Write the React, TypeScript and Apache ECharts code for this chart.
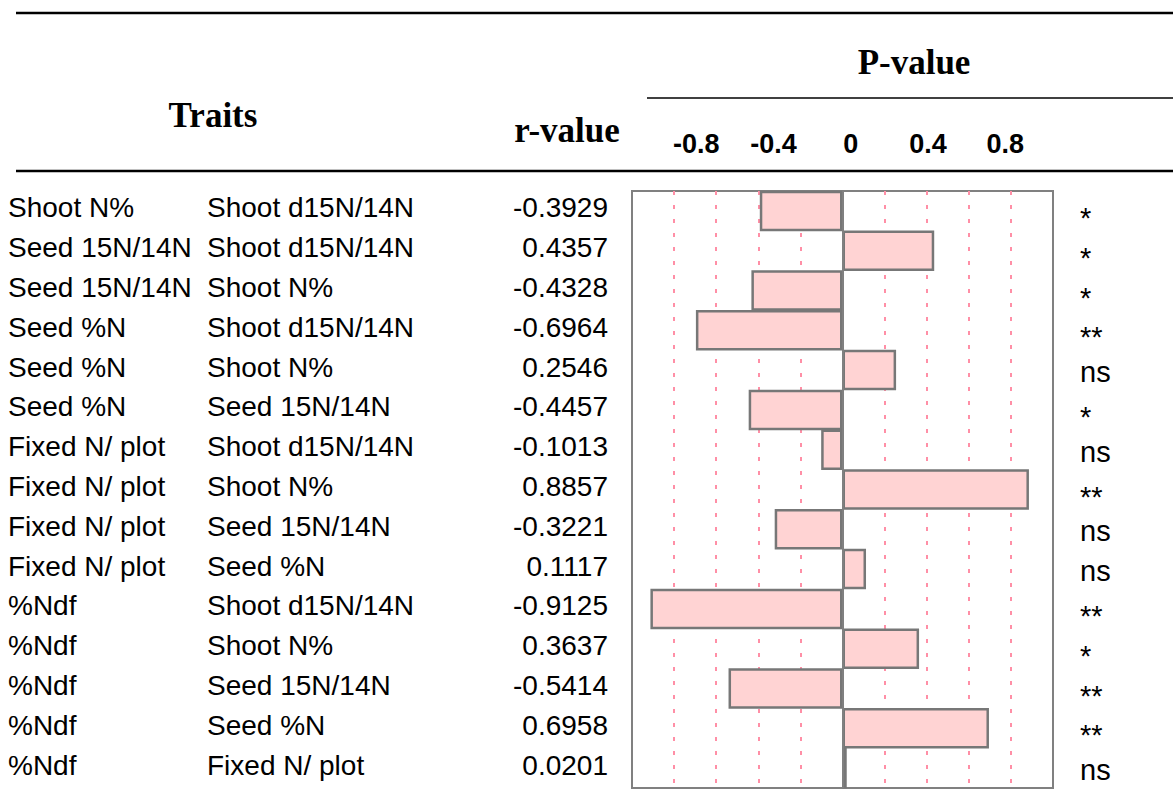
import React, { useEffect, useRef } from "react";
import * as echarts from "echarts";

const trait1: string[] = [
  "Shoot N%", "Seed 15N/14N", "Seed 15N/14N", "Seed %N", "Seed %N", "Seed %N",
  "Fixed N/ plot", "Fixed N/ plot", "Fixed N/ plot", "Fixed N/ plot",
  "%Ndf", "%Ndf", "%Ndf", "%Ndf", "%Ndf",
];
const trait2: string[] = [
  "Shoot d15N/14N", "Shoot d15N/14N", "Shoot N%", "Shoot d15N/14N", "Shoot N%", "Seed 15N/14N",
  "Shoot d15N/14N", "Shoot N%", "Seed 15N/14N", "Seed %N",
  "Shoot d15N/14N", "Shoot N%", "Seed 15N/14N", "Seed %N", "Fixed N/ plot",
];
const rValues: number[] = [
  -0.3929, 0.4357, -0.4328, -0.6964, 0.2546, -0.4457, -0.1013, 0.8857,
  -0.3221, 0.1117, -0.9125, 0.3637, -0.5414, 0.6958, 0.0201,
];
const significance: string[] = [
  "*", "*", "*", "**", "ns", "*", "ns", "**", "ns", "ns", "**", "*", "**", "**", "ns",
];
const topTickValues: number[] = [-0.8, -0.4, 0, 0.4, 0.8];
const headers = { traits: "Traits", r: "r-value", p: "P-value" };

const categories = rValues.map((_, i) => String(i));

const SANS = "'Liberation Sans', Arial, sans-serif";
const SERIF = "'Liberation Serif', 'Times New Roman', serif";

export default function App() {
  const ref = useRef<HTMLDivElement>(null);
  useEffect(() => {
    if (!ref.current) return;
    const chart = echarts.init(ref.current, null, { renderer: "svg" });
    const option: any = {
      animation: false,
      backgroundColor: "#ffffff",
      grid: {
        left: 632,
        top: 191,
        width: 421,
        height: 597,
        show: true,
        borderColor: "#808080",
        borderWidth: 2,
        backgroundColor: "transparent",
      },
      xAxis: [
        {
          type: "value",
          min: -1,
          max: 1,
          interval: 0.2,
          position: "bottom",
          axisLine: { show: false },
          axisTick: { show: false },
          axisLabel: { show: false },
          splitLine: {
            show: true,
            showMinLine: false,
            showMaxLine: false,
            lineStyle: { color: "#ff8fa6", type: [4, 10], width: 2 },
          },
        },
        {
          type: "value",
          min: -1.1326,
          max: 1.0476,
          position: "top",
          axisLine: { show: false },
          axisTick: { show: false },
          splitLine: { show: false },
          axisLabel: {
            show: true,
            customValues: topTickValues,
            formatter: (v: number) => String(v),
            fontFamily: SANS,
            fontWeight: "bold",
            fontSize: 27,
            color: "#000",
            margin: 34,
          },
        },
      ],
      yAxis: [
        {
          type: "category",
          data: categories,
          inverse: true,
          position: "left",
          axisLine: { show: false },
          axisTick: { show: false },
          splitLine: { show: false },
          axisLabel: {
            margin: 24,
            padding: [0, 0, 6, 0],
            formatter: (_v: string, i: number) =>
              `{a|${trait1[i]}}{b|${trait2[i]}}{c|${rValues[i].toFixed(4)}}`,
            rich: {
              a: { width: 199, align: "left", fontFamily: SANS, fontSize: 28, color: "#000" },
              b: { width: 300, align: "left", fontFamily: SANS, fontSize: 28, color: "#000" },
              c: { width: 101, align: "right", fontFamily: SANS, fontSize: 28, color: "#000" },
            },
          },
        },
        {
          type: "category",
          data: categories,
          inverse: true,
          position: "right",
          axisLine: { show: false },
          axisTick: { show: false },
          splitLine: { show: false },
          axisLabel: {
            margin: 27,
            formatter: (_v: string, i: number) =>
              significance[i] === "ns" ? `{n|${significance[i]}}` : `{s|${significance[i]}}`,
            rich: {
              s: { fontFamily: SANS, fontSize: 29, color: "#000", padding: [14, 0, 0, 0] },
              n: { fontFamily: SANS, fontSize: 29, color: "#000", padding: [4, 0, 0, 0] },
            },
          },
        },
      ],
      series: [
        {
          type: "bar",
          xAxisIndex: 0,
          yAxisIndex: 0,
          data: rValues,
          barWidth: 40.5,
          barCategoryGap: "0%",
          itemStyle: { color: "#ffd3d3", borderColor: "#777777", borderWidth: 2.5 },
          markLine: {
            silent: true,
            symbol: ["none", "none"],
            label: { show: false },
            lineStyle: { color: "#808080", width: 2, type: "solid" },
            data: [{ xAxis: 0 }],
          },
        },
      ],
      graphic: [
        { type: "line", shape: { x1: 16, y1: 13, x2: 1173, y2: 13 }, style: { stroke: "#000", lineWidth: 2.5 } },
        { type: "line", shape: { x1: 647, y1: 98, x2: 1173, y2: 98 }, style: { stroke: "#000", lineWidth: 1.5 } },
        { type: "line", shape: { x1: 16, y1: 171, x2: 1173, y2: 171 }, style: { stroke: "#000", lineWidth: 2.5 } },
        {
          type: "text",
          x: 213,
          y: 115,
          style: { text: headers.traits, font: `bold 35px ${SERIF}`, fill: "#000", align: "center", verticalAlign: "middle" },
        },
        {
          type: "text",
          x: 567,
          y: 130,
          style: { text: headers.r, font: `bold 35px ${SERIF}`, fill: "#000", align: "center", verticalAlign: "middle" },
        },
        {
          type: "text",
          x: 914,
          y: 62,
          style: { text: headers.p, font: `bold 35px ${SERIF}`, fill: "#000", align: "center", verticalAlign: "middle" },
        },
      ],
    };
    chart.setOption(option);
    return () => chart.dispose();
  }, []);
  return (
    <div
      ref={ref}
      style={{ position: "fixed", left: 0, top: 0, width: 1173, height: 802, background: "#fff" }}
    />
  );
}
